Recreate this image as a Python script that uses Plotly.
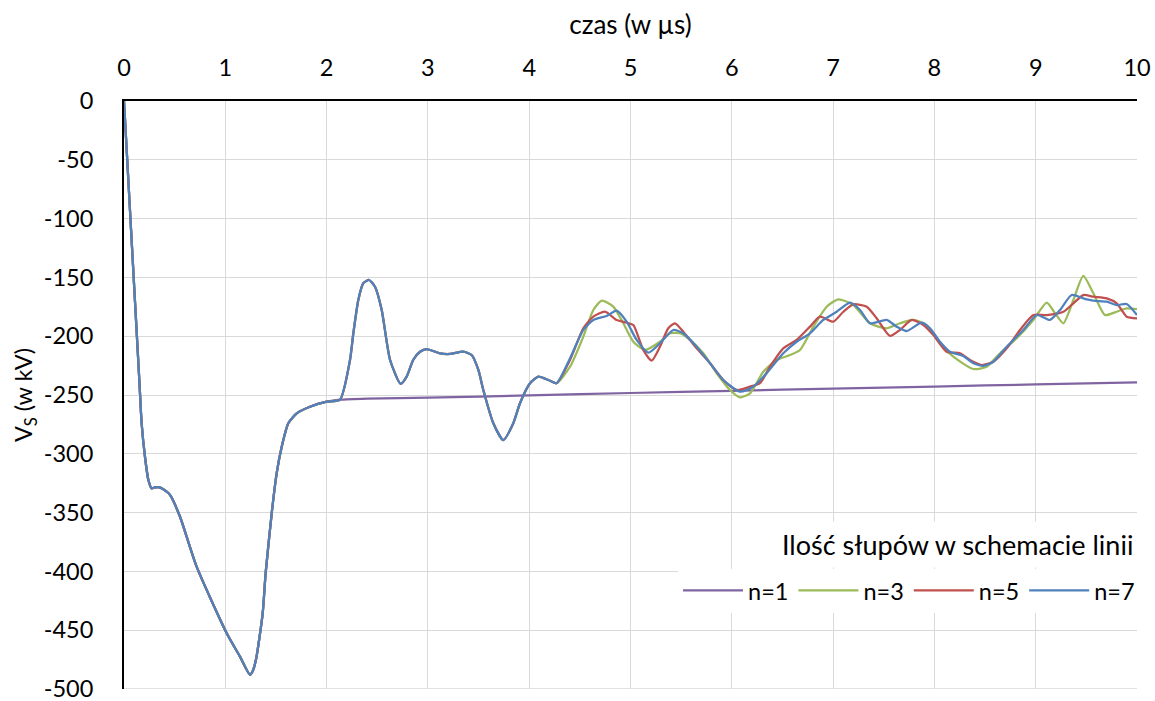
import plotly.graph_objects as go

# ---- data (time in µs, voltage in kV) ----
t_start = [0.0, 0.075, 0.151, 0.174, 0.207, 0.24, 0.273, 0.306, 0.349, 0.421, 0.454, 0.553,
           0.717, 1.014, 1.145, 1.244, 1.27, 1.303, 1.369, 1.398, 1.458, 1.507, 1.557,
           1.622, 1.705, 1.836, 2.001, 2.132]
v_start = [0.0, -118, -237, -274, -302.5, -322, -329.4, -328.5, -328.5, -332.2, -335, -353.5,
           -396, -452.6, -472.5, -488, -485, -475, -435.6, -401.6, -350.6, -316.6, -294,
           -274, -265.6, -260, -255.7, -254]

t_n1_tail = [2.4, 3.0, 4.0, 5.0, 6.0, 7.0, 8.0, 9.0, 10.0]
v_n1_tail = [-253.0, -252.2, -250.4, -248.3, -246.4, -244.6, -242.8, -241.0, -239.2]

t_mid = [2.231, 2.264, 2.313, 2.362, 2.419, 2.478, 2.544, 2.626, 2.731, 2.79, 2.856, 2.922,
         2.988, 3.12, 3.218, 3.35, 3.432, 3.498, 3.547, 3.646, 3.744, 3.843, 3.909, 4.008,
         4.09, 4.189, 4.27]
v_mid = [-220.2, -197.5, -169.2, -155, -152.2, -157.9, -177.7, -220, -240.6, -234.4, -220, -213.2,
         -210.9, -214.6, -215.1, -213.2, -216, -228.7, -245.7, -274, -288.3, -274, -257, -240,
         -234.4, -237.2, -240]

t_n3_tail = [4.403, 4.534, 4.633, 4.716, 4.83, 4.929, 5.028, 5.143, 5.291, 5.39, 5.489, 5.587,
             5.719, 5.851, 5.982, 6.081, 6.18, 6.311, 6.443, 6.575, 6.673, 6.805, 6.937, 7.052,
             7.2, 7.364, 7.529, 7.66, 7.792, 7.924, 8.055, 8.187, 8.384, 8.516, 8.648, 8.812,
             8.977, 9.109, 9.191, 9.273, 9.372, 9.47, 9.569, 9.684, 9.8, 9.898, 10.0]
v_n3_tail = [-226, -200.4, -177.7, -169.8, -174.9, -189, -204.7, -211.7, -204.7, -197.5, -197.5, -203.2,
             -214.5, -231.5, -245.7, -252, -248.6, -230.2, -220.2, -216, -211.7, -191.9, -174.9, -168.6,
             -173.5, -189, -193.3, -189, -186.2, -190.5, -206, -217.4, -227.9, -225.9, -214.5, -201.8,
             -186.2, -171.5, -180.5, -189, -169.2, -148.8, -163.5, -182, -179.2, -176.3, -176.9]

t_n5_tail = [4.403, 4.534, 4.633, 4.748, 4.863, 4.962, 5.028, 5.126, 5.209, 5.291, 5.373, 5.439,
             5.521, 5.653, 5.785, 5.916, 6.048, 6.18, 6.278, 6.377, 6.508, 6.64, 6.772, 6.87,
             7.002, 7.101, 7.2, 7.332, 7.43, 7.562, 7.66, 7.776, 7.891, 7.99, 8.121, 8.253,
             8.351, 8.467, 8.582, 8.714, 8.845, 8.977, 9.109, 9.273, 9.372, 9.47, 9.569, 9.701,
             9.8, 9.898, 10.0]
v_n5_tail = [-220.2, -193.3, -183.4, -179.2, -186.2, -188.5, -190.5, -211.7, -220.8, -208.9, -193.3, -189,
             -196.2, -210.3, -223, -237.2, -245.7, -242.9, -240, -225.9, -210.3, -203.2, -191.9, -183.4,
             -187.6, -179.2, -172.9, -174.9, -184.8, -199.8, -194.7, -186.2, -190.5, -199, -213.2, -214.5,
             -220.2, -224.5, -221.7, -210.3, -194.7, -182, -182, -179.2, -172, -165, -166.4, -167.8,
             -172, -183.4, -184.8]

t_n7_tail = [4.403, 4.534, 4.633, 4.765, 4.863, 4.962, 5.061, 5.176, 5.291, 5.423, 5.521, 5.653,
             5.785, 5.916, 6.081, 6.212, 6.344, 6.508, 6.64, 6.772, 6.903, 7.035, 7.167, 7.266,
             7.364, 7.529, 7.628, 7.726, 7.874, 7.957, 8.055, 8.154, 8.285, 8.384, 8.483, 8.582,
             8.714, 8.878, 9.01, 9.141, 9.24, 9.355, 9.47, 9.569, 9.701, 9.8, 9.898, 10.0]
v_n7_tail = [-218.8, -194.7, -186.2, -182.8, -178.3, -187.6, -203.2, -214, -206, -194.7, -197.5, -208.9,
             -223, -237.2, -247.2, -242.9, -231.5, -214.5, -204.7, -197.5, -186.2, -179.2, -171.5, -177.7,
             -189, -186.2, -191.9, -195.6, -188.5, -193.3, -204.7, -213.2, -216.8, -223, -225.3, -221.7,
             -208.9, -194.7, -182, -186.2, -177.7, -165, -167.8, -169.8, -170.6, -173.5, -172.6, -182]

series_names = ["n=1", "n=3", "n=5", "n=7"]
series_colors = ["#8064A2", "#9BBB59", "#C0504D", "#4F81BD"]
legend_title = "Ilość słupów w schemacie linii"

x_ticks = list(range(0, 11))
y_ticks = list(range(-500, 1, 50))

series = [
    (t_start + t_n1_tail, v_start + v_n1_tail),
    (t_start + t_mid + t_n3_tail, v_start + v_mid + v_n3_tail),
    (t_start + t_mid + t_n5_tail, v_start + v_mid + v_n5_tail),
    (t_start + t_mid + t_n7_tail, v_start + v_mid + v_n7_tail),
]

FONT = "Lato"
GRID = "#D9D9D9"
fig = go.Figure()
for (xs, ys), name, col in zip(series, series_names, series_colors):
    fig.add_trace(go.Scatter(x=xs, y=ys, mode="lines", name=name,
                             line=dict(color=col, width=2.25, shape="spline", smoothing=0.6)))

# bottom gridline at the lower end of the range (Plotly omits it at the edge)
fig.add_shape(type="line", xref="paper", x0=0, x1=1, yref="y", y0=y_ticks[0], y1=y_ticks[0],
              line=dict(color=GRID, width=1.3), layer="below")

# legend title box (Excel-style, separate from item row)
fig.add_annotation(text=legend_title, xref="paper", yref="paper",
                   x=1.003, xanchor="right", y=0.205, yanchor="bottom",
                   showarrow=False, bgcolor="white", borderpad=6,
                   font=dict(family=FONT, size=27, color="#000000"))

fig.update_layout(
    width=1155, height=701,
    margin=dict(l=124, r=18, t=101, b=12),
    paper_bgcolor="white", plot_bgcolor="white",
    font=dict(family=FONT, size=23.5, color="#000000"),
    showlegend=True,
    legend=dict(
        orientation="h",
        x=1.003, xanchor="right", y=0.13, yanchor="bottom",
        bgcolor="white",
        font=dict(family=FONT, size=23.5, color="#000000"),
        itemwidth=60,
        traceorder="normal",
    ),
    xaxis=dict(
        side="top", range=[0, 10], tickvals=x_ticks, ticktext=[str(v) for v in x_ticks],
        showgrid=True, gridcolor=GRID, gridwidth=1.3,
        showline=True, linecolor="#000000", linewidth=2,
        zeroline=False, ticks="", ticklabelstandoff=14,
        title=dict(text="czas (w µs)", standoff=10, font=dict(family=FONT, size=26)),
        automargin=False, ticklabeloverflow="allow",
        tickfont=dict(family=FONT, size=23.5),
    ),
    yaxis=dict(
        range=[-500, 0], tickvals=y_ticks, ticktext=[str(v) for v in y_ticks],
        showgrid=True, gridcolor=GRID, gridwidth=1.3,
        showline=True, linecolor="#000000", linewidth=2,
        zeroline=False, ticks="", ticklabelstandoff=24,
        title=dict(text="V<sub>S</sub> (w kV)", standoff=4, font=dict(family=FONT, size=23.5)),
        automargin=False, ticklabeloverflow="allow",
        tickfont=dict(family=FONT, size=23.5),
    ),
)

fig.write_html("out.html", config={"displayModeBar": False},
               post_script="document.body.style.margin='0';document.body.style.overflow='hidden';")
